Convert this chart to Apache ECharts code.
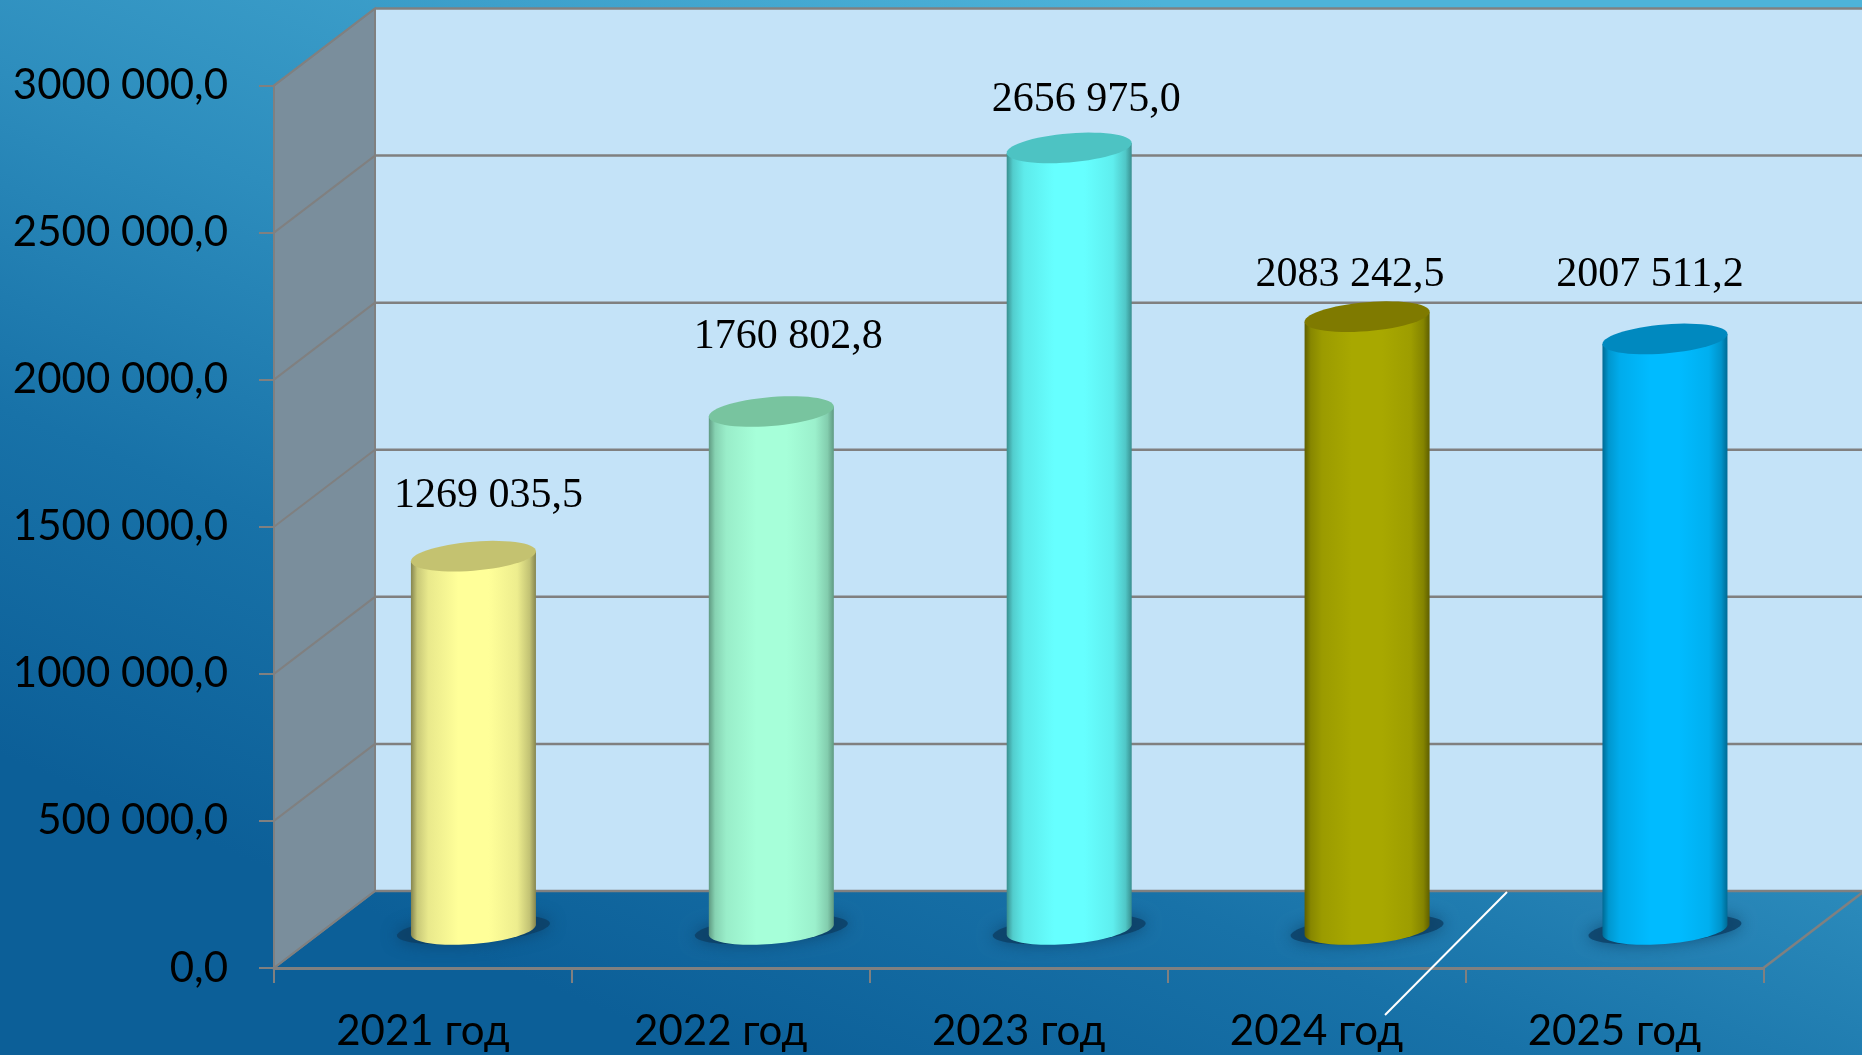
<!DOCTYPE html>
<html><head><meta charset="utf-8">
<style>html,body{margin:0;padding:0;background:#1a6ea3}#c{width:1862px;height:1055px}</style>
<script src="https://cdn.jsdelivr.net/npm/echarts@6/dist/echarts.min.js"></script>
</head><body><div id="c"></div>
<script>
const categories = ['2021 год','2022 год','2023 год','2024 год','2025 год'];
const values = [1269035.5, 1760802.8, 2656975.0, 2083242.5, 2007511.2];
const yTicks = [0,500000,1000000,1500000,2000000,2500000,3000000];
const barColors = ['#FFFF99','#A6FFD9','#66FFFF','#A8A800','#00BBFF'];
const edgeColors = ['#85854F','#5F9A82','#398F8F','#5F5F00','#006A94'];
const topColors = ['#C4C270','#78C49F','#4DC3C3','#7F7A00','#0089BF'];
const labelShift = [[15,-60],[17,-75],[17,-48],[-17,-42],[-15,-64]];

const DX = 101, DY = -77, AX = '#808080';
const fmt = v => { const t = Math.floor(v/1000), r = v - t*1000;
  return t + (t?' ':'') + (t? r.toFixed(1).padStart(5,'0') : r.toFixed(1)).replace('.',','); };
const yLabel = v => v === 0 ? '0,0' : fmt(v);

function ell(cx, cy, a, b, s, from, to, n){
  const p=[]; for(let i=0;i<=n;i++){ const t=from+(to-from)*i/n;
    p.push([cx+a*Math.cos(t), cy+b*Math.sin(t)+s*a*Math.cos(t)]); } return p;
}
function renderFrame(params, api){
  const r = params.coordSys, v = api.value(0);
  const y = api.coord([0, v])[1], x0 = r.x, x1 = r.x + r.width;
  const line = (a,b,c,d,w) => ({type:'line',shape:{x1:a,y1:b,x2:c,y2:d},style:{stroke:AX,lineWidth:w||2.5}});
  const ch = [];
  if(params.dataIndex===0){
    const yb = r.y + r.height, yt = r.y;
    ch.push({type:'rect',shape:{x:x0+DX,y:yt+DY,width:r.width+20,height:r.height},style:{fill:'#C4E3F8'}});
    ch.push({type:'polygon',shape:{points:[[x0,yb],[x0,yt],[x0+DX,yt+DY],[x0+DX,yb+DY]]},style:{fill:'#7A8E9C',stroke:AX,lineWidth:2}});
    ch.push(line(x1,yb,x1+DX,yb+DY));
  }
  ch.push(line(x0+DX,y+DY,x1+DX+20,y+DY));
  ch.push(line(x0,y,x0+DX,y+DY,2));
  return {type:'group',children:ch};
}
function renderColumn(params, api){
  const i = params.dataIndex, idx = api.value(0), v = api.value(1);
  const b = api.coord([idx,0]), t = api.coord([idx,v]);
  const cx = b[0]+DX/2, yb = b[1]+DY/2, yt = t[1]+DY/2, a = 62.5, h = 14.5, s = -0.08;
  const c = barColors[i], e = edgeColors[i], lerp = echarts.color.lerp;
  const grad = {type:'linear',x:0,y:0,x2:1,y2:0,colorStops:[
    {offset:0,color:e},{offset:.05,color:lerp(.55,[e,c])},{offset:.14,color:lerp(.82,[e,c])},{offset:.38,color:c},
    {offset:.62,color:c},{offset:.85,color:lerp(.85,[e,c])},{offset:.95,color:lerp(.5,[e,c])},{offset:1,color:e}]};
  const lower = ell(cx,yb,a,h,s,Math.PI,0,40);
  const body = lower.concat([[cx+a,yt+s*a],[cx-a,yt-s*a]]);
  return {type:'group',children:[
    {type:'polygon',shape:{points:ell(cx,yb,a+14,h-1,s,0,Math.PI*2,60)},
     style:{fill:'rgba(12,62,100,0.8)',shadowBlur:16,shadowColor:'rgba(12,62,100,0.9)'}},
    {type:'polygon',shape:{points:body},style:{fill:grad}},
    {type:'polygon',shape:{points:ell(cx,yt,a,h,s,0,Math.PI*2,60)},style:{fill:topColors[i]}},
    {type:'text',style:{text:fmt(v),x:cx+labelShift[i][0],y:yt+labelShift[i][1],align:'center',verticalAlign:'middle',
      fill:'#000',font:'42px "Liberation Serif"'},z2:10}
  ]};
}
const chart = echarts.init(document.getElementById('c'),null,{renderer:'canvas',width:1862,height:1055});
chart.setOption({
  animation:false,
  backgroundColor:{type:'linear',x:0.62,y:0,x2:0.38,y2:1,colorStops:[
    {offset:0,color:'#4DB3D9'},{offset:.45,color:'#2D8DBD'},{offset:.72,color:'#1872A8'},{offset:1,color:'#0C5F98'}]},
  grid:{left:274,top:85.5,width:1489.4,height:882.5},
  xAxis:{type:'category',data:categories,boundaryGap:true,
    axisLine:{lineStyle:{color:AX,width:3}},axisTick:{show:true,length:15,alignWithLabel:false,lineStyle:{color:AX,width:2}},
    axisLabel:{color:'#000',fontFamily:'Lato',fontSize:42,margin:42},z:5},
  yAxis:{type:'value',min:0,max:3000000,interval:500000,
    axisLine:{show:true,lineStyle:{color:AX,width:2}},axisTick:{show:true,length:15,lineStyle:{color:AX,width:2}},
    splitLine:{show:false},
    axisLabel:{color:'#000',fontFamily:'Lato',fontSize:42,margin:46,formatter:yLabel},z:5},
  graphic:[{type:'line',z:20,shape:{x1:1507,y1:892,x2:1385,y2:1015},style:{stroke:'#fff',lineWidth:2}}],
  series:[
    {type:'custom',z:1,clip:false,coordinateSystem:'cartesian2d',renderItem:renderFrame,data:yTicks.map(v=>[v]),encode:{y:0},silent:true},
    {type:'custom',z:3,clip:false,coordinateSystem:'cartesian2d',renderItem:renderColumn,data:values.map((v,i)=>[i,v]),encode:{x:0,y:1},silent:true}
  ]
});
</script></body></html>
